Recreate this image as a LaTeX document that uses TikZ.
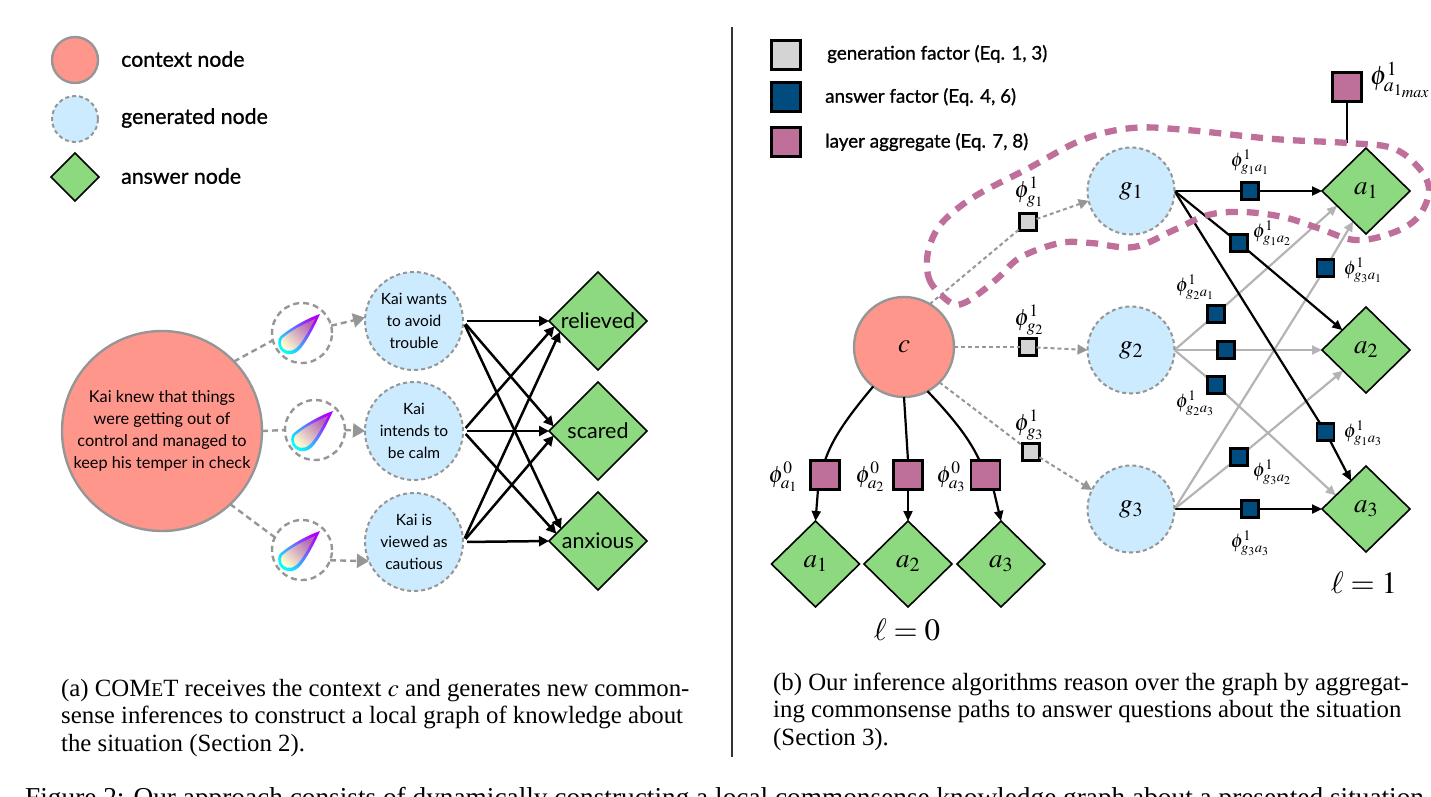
\documentclass[tikz,border=0pt]{standalone}
\usepackage{amsmath,amssymb}
\usepackage{mathptmx}
\usepackage[no-math]{fontspec}
\usepackage{xcolor}
\usetikzlibrary{arrows.meta,positioning,calc,shapes.geometric,backgrounds}
\setmainfont{Liberation Serif}
\newfontfamily\diagfont{Lato}
\newfontfamily\keyfont[FakeBold=1]{Lato}
\definecolor{ctxred}{HTML}{FF968C}
\definecolor{genblue}{HTML}{CCEBFF}
\definecolor{ansgreen}{HTML}{8DD97F}
\definecolor{edgegrey}{HTML}{969696}
\definecolor{lightedge}{HTML}{B4B4B4}
\definecolor{factgrey}{HTML}{D4D4D4}
\definecolor{factblue}{HTML}{004C7F}
\definecolor{aggpink}{HTML}{BF709A}
\tikzset{
  ctxnode/.style={circle, draw=edgegrey, fill=ctxred, line width=2.4pt, inner sep=0pt, outer sep=0pt, align=center},
  gennode/.style={circle, draw=edgegrey, fill=genblue, line width=2pt, dash pattern=on 4pt off 3pt,
                  inner sep=0pt, outer sep=0pt, align=center},
  ansnode/.style={diamond, draw=black, fill=ansgreen, line width=1.6pt, inner sep=0pt, outer sep=0pt, aspect=1},
  dropnode/.style={circle, draw=edgegrey, line width=2.4pt, dash pattern=on 6pt off 4pt, minimum size=60pt,
                   inner sep=0pt, outer sep=0pt},
  fact/.style={rectangle, draw=black, line width=2.3pt, inner sep=0pt, outer sep=0pt},
  gensq/.style={fact, fill=factgrey, minimum size=17pt},
  anssq/.style={fact, fill=factblue, minimum size=17pt},
  aggsq/.style={fact, fill=aggpink, minimum width=29pt, minimum height=29pt},
  genarrow/.style={-{Triangle[length=10pt,width=10pt]}, draw=edgegrey, line width=2pt, dash pattern=on 4pt off 3pt},
  gendash/.style={draw=edgegrey, line width=2pt, dash pattern=on 4pt off 3pt},
  bigarrow/.style={-{Triangle[length=12pt,width=14pt]}, draw=edgegrey, line width=2.4pt, dash pattern=on 6pt off 4pt},
  bigdash/.style={draw=edgegrey, line width=2.4pt, dash pattern=on 6pt off 4pt},
  wirearrow/.style={-{Triangle[length=10pt,width=10pt]}, draw=black, line width=2.5pt, shorten <=4pt},
  solidarrow/.style={-{Triangle[length=10pt,width=9pt]}, draw=black, line width=2.2pt},
  greyarrow/.style={-{Triangle[length=10pt,width=9pt]}, draw=lightedge, line width=2.2pt},
  keytext/.style={font=\keyfont\fontsize{21.3}{25}\selectfont, anchor=west, inner sep=0pt},
  facttext/.style={font=\keyfont\fontsize{18.8}{22}\selectfont, anchor=west, inner sep=0pt},
  gentext/.style={font=\diagfont\fontsize{15.5}{22}\selectfont},
  anstext/.style={font=\diagfont\fontsize{21.5}{24}\selectfont},
  philab/.style={inner sep=0pt, font=\fontsize{23.5}{26}\selectfont},
  sublab/.style={inner sep=0pt, font=\fontsize{19.7}{22}\selectfont},
  varlab/.style={font=\fontsize{27}{32}\selectfont},
  laylab/.style={font=\fontsize{31}{34}\selectfont},
  captext/.style={font=\fontsize{24.8}{27.3}\selectfont, anchor=north west, align=left, inner sep=0pt},
  drop/.pic={
    \shade[left color=cyan, middle color=blue!60!cyan, right color=magenta!70!blue, shading angle=135]
      (30,-29) .. controls (21,-9) and (13,4) .. (8,8) .. controls (1,14) and (-8,11) .. (-11,4)
      .. controls (-13,-3) and (-11,-6) .. (-8,-8) .. controls (2,-16) and (18,-25) .. cycle;
    \shade[left color=yellow!18, middle color=cyan!25, right color=violet!60, shading angle=135]
      (25,-24) .. controls (16,-7) and (10,2) .. (6,5) .. controls (0,10) and (-6,8) .. (-8.5,3)
      .. controls (-10,-2) and (-8,-5) .. (-6,-6) .. controls (2,-13) and (14,-19) .. cycle;
  }
}
\begin{document}
\begin{tikzpicture}[x=1pt,y=-1pt,>=Latex]
  \useasboundingbox (0,0) rectangle (1431,796);
  \clip (0,0) rectangle (1431,796);

  % left legend
  \node[ctxnode,minimum size=46pt] (keyctx) at (75,60) {};
  \node[gennode,minimum size=46pt] (keygen) at (75,119) {};
  \node[ansnode,minimum size=48pt] (keyans) at (75,177) {};
  \node[keytext] (keyctxlab) at (121,59) {context node};
  \node[keytext] (keygenlab) at (121,118) {generated node};
  \node[keytext] (keyanslab) at (121,176) {answer node};

  % left graph
  \node[ctxnode,minimum size=200pt,font=\diagfont\fontsize{16.3}{22}\selectfont] (ctx) at (162,431)
    {Kai knew that things\\were getting out of\\control and managed to\\keep his temper in check};
  \foreach \name/\x/\y in {d1/302/333,d2/315/430,d3/302/550} {
    \node[dropnode] (\name) at (\x,\y) {};
    \pic at ($(\x,\y)+(-12,10)$) {drop};
  }
  \node[gennode,minimum size=98pt,gentext] (k1) at (414,321) {Kai wants\\to avoid\\trouble};
  \node[gennode,minimum size=98pt,gentext] (k2) at (414,431) {Kai\\intends to\\be calm};
  \node[gennode,minimum size=98pt,gentext] (k3) at (414,542) {Kai is\\viewed as\\cautious};
  \node[ansnode,minimum size=98pt,anstext] (rel) at (598,321) {relieved};
  \node[ansnode,minimum size=98pt,anstext] (sca) at (598,431) {scared};
  \node[ansnode,minimum size=98pt,anstext] (anx) at (598,541) {anxious};

  \draw[bigdash] (ctx.44) -- (d1.194);
  \draw[bigdash] (ctx.0) -- (d2.180);
  \draw[bigdash] (ctx.-47) -- (d3.155);
  \draw[bigarrow] (d1.14) -- (k1.176);
  \draw[bigarrow] (d2.0) -- (k2.180);
  \draw[bigarrow] (d3.-20) -- (k3.203);
  \foreach \from/\to/\ang in {k1/rel/180,k1/sca/174,k1/anx/162,
                              k2/rel/187,k2/sca/180,k2/anx/170,
                              k3/rel/196,k3/sca/186,k3/anx/180}
    {\draw[wirearrow] (\from.east) -- (\to.\ang);}

  % separator
  \coordinate (septop) at (732,27);
  \coordinate (sepbot) at (732,757);
  \draw[line width=1.2pt,draw=black!80] (septop) -- (sepbot);

  % right legend
  \node[fact,fill=factgrey,minimum size=29pt] (keygf) at (786,55) {};
  \node[fact,fill=factblue,minimum size=29pt] (keyaf) at (786,97) {};
  \node[fact,fill=aggpink,minimum size=29pt] (keyla) at (786,142) {};
  \node[facttext] (keygflab) at (827,54) {generation factor (Eq. 1, 3)};
  \node[facttext] (keyaflab) at (825,97) {answer factor (Eq. 4, 6)};
  \node[facttext] (keylalab) at (825,142) {layer aggregate (Eq. 7, 8)};

  % right graph
  \node[ctxnode,minimum size=100pt,varlab] (c) at (904,347) {$c$};
  \foreach \i/\y in {1/191,2/350,3/509} {
    \node[gennode,minimum size=87pt,varlab] (g\i) at (1131,\y) {$g_\i$};
    \node[ansnode,minimum width=88pt,minimum height=86pt,varlab] (a\i) at (1366,\y) {$a_\i$};
  }
  \foreach \i/\x in {1/815.5,2/908,3/1001}
    {\node[ansnode,minimum width=88pt,minimum height=86pt,varlab] (z\i) at (\x,564) {$a_\i$};}

  % generation factors
  \node[gensq] (gf1) at (1028,222) {};
  \node[gensq] (gf2) at (1028,347) {};
  \node[gensq] (gf3) at (1031,452) {};
  \draw[gendash] (c.59) -- (gf1);
  \draw[gendash] (c.east) -- (gf2);
  \draw[gendash] (c.-45) -- (gf3);
  \draw[genarrow] (gf1) -- (g1.193);
  \draw[genarrow] (gf2) -- (g2.west);
  \draw[genarrow] (gf3) -- (g3.154);

  % answer factors
  \node[anssq] (f11) at (1250,191) {};
  \node[anssq] (f12) at (1239,243) {};
  \node[anssq] (f13) at (1325.5,432) {};
  \node[anssq] (f21) at (1216,314) {};
  \node[anssq] (f22) at (1226,350) {};
  \node[anssq] (f23) at (1216,385) {};
  \node[anssq] (f31) at (1325.5,268) {};
  \node[anssq] (f32) at (1239,457) {};
  \node[anssq] (f33) at (1250,509) {};
  \begin{scope}[on background layer]
    \foreach \f/\g/\t/\ang in {f21/g2/a1/207,f22/g2/a2/180,f23/g2/a3/156,f31/g3/a1/247,f32/g3/a2/222} {
      \draw[draw=lightedge,line width=2.2pt] (\g.east) -- (\f);
      \draw[greyarrow] (\f) -- (\t.\ang);
    }
    \foreach \f/\g/\t/\ang in {f11/g1/a1/180,f12/g1/a2/140,f13/g1/a3/118,f33/g3/a3/180} {
      \draw[draw=black,line width=2.2pt] (\g.east) -- (\f);
      \draw[solidarrow] (\f) -- (\t.\ang);
    }
  \end{scope}

  % layer aggregates
  \node[aggsq] (la1) at (825,475) {};
  \node[aggsq] (la2) at (908,475) {};
  \node[aggsq] (la3) at (985.5,475) {};
  \node[aggsq] (top) at (1347,87) {};
  \draw[line width=2.2pt] (c.-128) .. controls (845,420) and (832,440) .. (la1.north);
  \draw[line width=2.2pt] (c.south) -- (la2.north);
  \draw[line width=2.2pt] (c.-62) .. controls (955,420) and (970,440) .. ($(la3.north)+(-6,0)$);
  \draw[solidarrow] ($(la1.south)+(-7,0)$) -- (z1.north);
  \draw[solidarrow] (la2.south) -- (z2.north);
  \draw[solidarrow] ($(la3.south)+(8,0)$) -- (z3.north);
  \coordinate (topend) at (1347,143);
  \draw[line width=2.6pt] (top.south) -- (topend);

  % aggregated region
  \draw[draw=aggpink,line width=6.3pt,dash pattern=on 12pt off 9pt] plot[smooth cycle,tension=0.6] coordinates {
    (951,303) (931,283) (927,260) (933,237) (946.5,218) (977,195) (1029,168) (1082,140)
    (1132,128) (1187,130) (1274,139) (1348,143) (1392,148) (1418,167) (1429,190) (1418,217)
    (1392,233) (1355,240) (1318,228) (1283,217) (1243,212) (1208,215) (1174,230) (1134,247)
    (1091,243) (1060,243) (1021,257) (999,277) (981,292) (964,303)};

  % factor labels
  \node[philab] (lgf1) at (1029,192) {$\phi^1_{g_1}$};
  \node[philab] (lgf2) at (1029,320) {$\phi^1_{g_2}$};
  \node[philab] (lgf3) at (1029,425) {$\phi^1_{g_3}$};
  \node[philab] (lz1) at (783,477) {$\phi^0_{a_1}$};
  \node[philab] (lz2) at (870,477) {$\phi^0_{a_2}$};
  \node[philab] (lz3) at (951,477) {$\phi^0_{a_3}$};
  \foreach \lab/\x/\y/\sub in {l11/1250/162/{g_1a_1},l12/1272/233/{g_1a_2},l13/1363/433/{g_1a_3},
                               l21/1195/287/{g_2a_1},l23/1195/403/{g_2a_3},l31/1363/270/{g_3a_1},
                               l32/1272/472/{g_3a_2},l33/1250/543/{g_3a_3}}
    {\node[sublab] (\lab) at (\x,\y) {$\phi^1_{\sub}$};}
  \node[philab,font=\fontsize{26.7}{30}\selectfont] (ltop) at (1400,80) {$\phi^1_{a_{1_{max}}}$};
  \node[laylab] (lay0) at (907,630) {$\ell=0$};
  \node[laylab] (lay1) at (1364,583) {$\ell=1$};

  % captions
  \node[captext] (capa) at (61,679) {(a) COM{\fontsize{19.5}{20}\selectfont E}T receives the context $c$ and generates new common-\\sense inferences to construct a local graph of knowledge about\\the situation (Section 2).};
  \node[captext] (capb) at (773,673) {(b) Our inference algorithms reason over the graph by aggregat-\\ing commonsense paths to answer questions about the situation\\(Section 3).};
  \node[captext,anchor=base west,font=\fontsize{27.3}{30}\selectfont] (fig) at (25,806) {Figure 2: Our approach consists of dynamically constructing a local commonsense knowledge graph about a presented situation};
\end{tikzpicture}
\end{document}
